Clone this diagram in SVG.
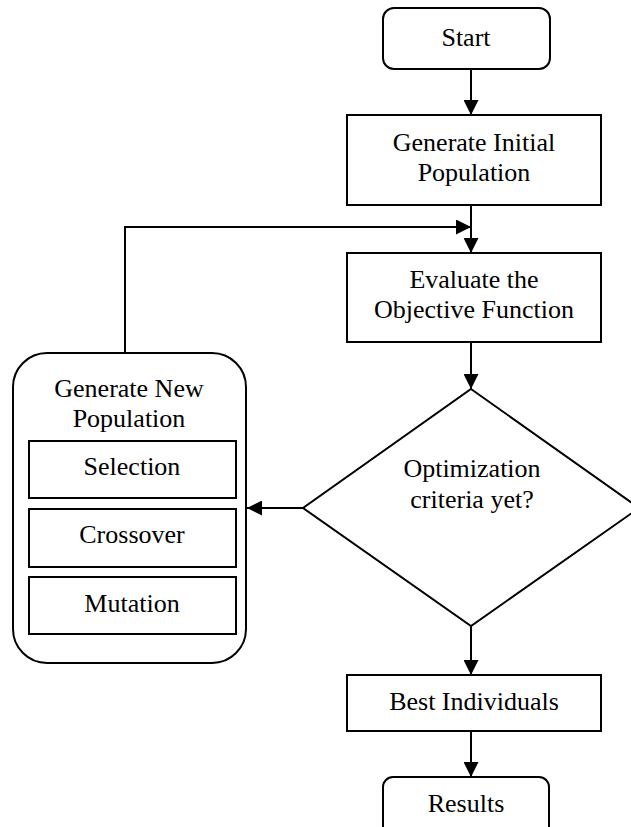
<svg xmlns="http://www.w3.org/2000/svg" width="631" height="827" viewBox="0 0 631 827">
<style>
.s{fill:#fff;stroke:#000;stroke-width:2}
.t{font-family:"Liberation Serif","Times New Roman",serif;font-size:26px;fill:#000;text-anchor:middle}
.c{fill:none;stroke:#000;stroke-width:2}
</style>
<defs>
<marker id="ah" markerUnits="userSpaceOnUse" markerWidth="15" markerHeight="15" refX="15" refY="7.5" orient="auto">
<path d="M0,0 L15,7.5 L0,15 z" fill="#000"/>
</marker>
</defs>
<rect width="631" height="827" fill="#fff"/>
<g id="connectors">
<line class="c" x1="471" y1="69" x2="471" y2="115" marker-end="url(#ah)"/>
<line class="c" x1="471" y1="205" x2="471" y2="253" marker-end="url(#ah)"/>
<polyline class="c" points="125,353 125,227 471,227" marker-end="url(#ah)"/>
<line class="c" x1="471" y1="342" x2="471" y2="389" marker-end="url(#ah)"/>
<line class="c" x1="303" y1="508" x2="247" y2="508" marker-end="url(#ah)"/>
<line class="c" x1="471" y1="626" x2="471" y2="675" marker-end="url(#ah)"/>
<line class="c" x1="471" y1="731" x2="471" y2="777" marker-end="url(#ah)"/>
</g>
<g id="start">
<rect class="s" x="383" y="8" width="167" height="61" rx="11"/>
<text class="t" x="466" y="46">Start</text>
</g>
<g id="init">
<rect class="s" x="347" y="115" width="254" height="90"/>
<text class="t" x="474" y="151">Generate Initial</text>
<text class="t" x="474" y="181">Population</text>
</g>
<g id="evaluate">
<rect class="s" x="347" y="253" width="254" height="89"/>
<text class="t" x="474" y="288">Evaluate the</text>
<text class="t" x="474" y="318">Objective Function</text>
</g>
<g id="decision">
<polygon class="s" points="471,389 639,508 471,626 303,508"/>
<text class="t" x="472" y="477">Optimization</text>
<text class="t" x="472" y="508">criteria yet?</text>
</g>
<g id="newpop">
<rect class="s" x="13" y="353" width="233" height="310" rx="34"/>
<text class="t" x="129" y="397">Generate New</text>
<text class="t" x="129" y="427">Population</text>
<rect class="s" x="29" y="441" width="207" height="57"/>
<text class="t" x="132" y="475">Selection</text>
<rect class="s" x="29" y="509" width="207" height="58"/>
<text class="t" x="132" y="543">Crossover</text>
<rect class="s" x="29" y="577" width="207" height="57"/>
<text class="t" x="132" y="612">Mutation</text>
</g>
<g id="best">
<rect class="s" x="347" y="675" width="254" height="56"/>
<text class="t" x="474" y="710">Best Individuals</text>
</g>
<g id="results">
<rect class="s" x="383" y="777" width="166" height="70" rx="10"/>
<text class="t" x="466" y="812">Results</text>
</g>
</svg>
